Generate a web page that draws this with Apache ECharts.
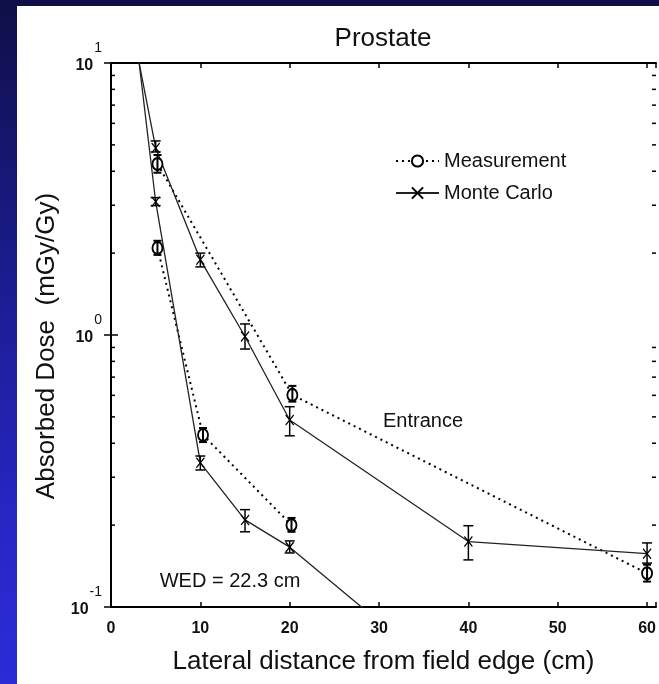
<!DOCTYPE html>
<html><head><meta charset="utf-8">
<script src="https://cdn.jsdelivr.net/npm/echarts@6/dist/echarts.min.js"></script>
<style>
html,body{margin:0;padding:0;}
body{width:659px;height:684px;overflow:hidden;position:relative;background:linear-gradient(to bottom,#0f0f48 0%,#1a1a86 35%,#2626c4 75%,#2c2cd8 100%);}
#panel{position:absolute;left:17px;top:6px;right:0;bottom:0;background:#fff;}
#chart{position:absolute;left:0;top:0;width:659px;height:684px;}
</style></head><body><div id="panel"></div><div id="chart"></div>
<script>
// ---- data (x in cm, dose in mGy/Gy) ----
const xTicks = [0, 10, 20, 30, 40, 50, 60];
const yMinorTicks = [0.2, 0.3, 0.4, 0.5, 0.6, 0.7, 0.8, 0.9, 2, 3, 4, 5, 6, 7, 8, 9];

const mcEntrance   = [[3, 10.6], [5, 4.87], [10, 1.89], [15, 0.987], [20, 0.487], [40, 0.174], [60, 0.157]];
const mcEntranceErr = [[5, 4.71, 5.17], [10, 1.78, 2.0], [15, 0.888, 1.098], [20, 0.426, 0.545], [40, 0.149, 0.199], [60, 0.145, 0.172]];
const measEntrance = [[5.2, 4.25], [20.3, 0.602], [60, 0.133]];
const measEntranceErr = [[5.2, 3.95, 4.59], [20.3, 0.569, 0.65], [60, 0.124, 0.143]];

const mcExit   = [[3, 11.0], [5, 3.09], [10, 0.339], [15, 0.209], [20, 0.166], [40, 0.047]];
const mcExitErr = [[5, 2.99, 3.2], [10, 0.319, 0.359], [15, 0.189, 0.228], [20, 0.158, 0.175]];
const measExit = [[5.2, 2.09], [10.3, 0.429], [20.2, 0.2]];
const measExitErr = [[5.2, 1.97, 2.22], [10.3, 0.404, 0.455], [20.2, 0.189, 0.2125]];

const XMAX = 61;
const FONT = '"Liberation Sans", Arial, Helvetica, sans-serif';

const chart = echarts.init(document.getElementById('chart'), null, {renderer: 'canvas'});

function errBars(data, capW, lw) {
  return {
    type: 'custom', silent: true, z: 4, clip: false,
    data: data, encode: {x: 0, y: [1, 2]},
    renderItem: function (params, api) {
      const x = api.value(0), lo = api.value(1), hi = api.value(2);
      const a = api.coord([x, lo]), b = api.coord([x, hi]);
      const h = capW / 2, st = {stroke: '#000', lineWidth: lw};
      return {type: 'group', children: [
        {type: 'line', shape: {x1: a[0], y1: a[1], x2: b[0], y2: b[1]}, style: st},
        {type: 'line', shape: {x1: a[0] - h, y1: a[1], x2: a[0] + h, y2: a[1]}, style: st},
        {type: 'line', shape: {x1: b[0] - h, y1: b[1], x2: b[0] + h, y2: b[1]}, style: st}
      ]};
    }
  };
}

const minorTickSeries = {
  type: 'custom', silent: true, z: 5, clip: false,
  data: yMinorTicks.map(v => [0, v]), encode: {x: 0, y: 1},
  renderItem: function (params, api) {
    const v = api.value(1);
    const l = api.coord([0, v]), r = api.coord([XMAX, v]);
    const st = {stroke: '#000', lineWidth: 1.5};
    return {type: 'group', children: [
      {type: 'line', shape: {x1: l[0], y1: l[1], x2: l[0] + 4, y2: l[1]}, style: st},
      {type: 'line', shape: {x1: r[0], y1: r[1], x2: r[0] - 4, y2: r[1]}, style: st}
    ]};
  }
};

const xSymbol = 'path://M0 0L10 10M10 0L0 10';

const measStyle = {
  type: 'line', name: 'Measurement', z: 3,
  symbol: 'emptyCircle', symbolSize: [10, 12],
  lineStyle: {color: '#000', width: 2, type: [2, 4]},
  itemStyle: {color: '#000', borderColor: '#000', borderWidth: 2},
  emphasis: {disabled: true}, animation: false
};
const mcStyle = {
  type: 'line', name: 'Monte Carlo', z: 3,
  symbol: xSymbol, symbolSize: [8, 10],
  lineStyle: {color: '#222', width: 1.3, type: 'solid'},
  itemStyle: {color: '#000', borderColor: '#000', borderWidth: 1.3},
  emphasis: {disabled: true}, animation: false
};

const xAxisBase = {
  type: 'value', min: 0, max: XMAX, interval: 10,
  axisLine: {lineStyle: {color: '#000', width: 2}},
  axisTick: {inside: true, length: 5, lineStyle: {color: '#000', width: 1.5}},
  splitLine: {show: false}
};

chart.setOption({
  animation: false,
  backgroundColor: 'transparent',
  grid: {left: 111, right: 2, top: 63, bottom: 77},
  legend: {
    orient: 'vertical', left: 390, top: 146, itemWidth: 43, itemHeight: 14, itemGap: 12,
    data: ['Measurement', 'Monte Carlo'],
    textStyle: {fontFamily: FONT, fontSize: 20, color: '#111'},
    selectedMode: false
  },
  xAxis: [
    Object.assign({}, xAxisBase, {
      position: 'bottom',
      axisLabel: {margin: 14, fontFamily: FONT, fontSize: 16, fontWeight: 'bold', color: '#111',
        formatter: v => (xTicks.indexOf(v) >= 0 ? String(v) : '')},
      name: 'Lateral distance from field edge (cm)', nameLocation: 'middle', nameGap: 42,
      nameTextStyle: {fontFamily: FONT, fontSize: 26, color: '#111'}
    }),
    Object.assign({}, xAxisBase, {position: 'top', axisLabel: {show: false}})
  ],
  yAxis: [
    {
      type: 'log', logBase: 10, min: 0.1, max: 10, position: 'left',
      axisLine: {lineStyle: {color: '#000', width: 2}},
      axisTick: {inside: true, length: 7, lineStyle: {color: '#000', width: 1.5}},
      splitLine: {show: false},
      axisLabel: {
        margin: 9, color: '#111',
        formatter: v => '{b|10}{s|' + Math.round(Math.log10(v)) + '}',
        rich: {
          b: {fontFamily: FONT, fontSize: 16, fontWeight: 'bold', color: '#111', padding: [6, 0, 0, 0]},
          s: {fontFamily: FONT, fontSize: 14, color: '#111', padding: [0, 0, 30, 1]}
        }
      },
      name: 'Absorbed Dose  (mGy/Gy)', nameLocation: 'middle', nameGap: 46,
      nameTextStyle: {fontFamily: FONT, fontSize: 26, color: '#111', padding: [0, 22, 0, 0]}
    },
    {
      type: 'log', logBase: 10, min: 0.1, max: 10, position: 'right',
      axisLine: {lineStyle: {color: '#000', width: 2}},
      axisTick: {inside: true, length: 7, lineStyle: {color: '#000', width: 1.5}},
      axisLabel: {show: false}, splitLine: {show: false}
    }
  ],
  graphic: [
    {type: 'text', x: 383, y: 39, style: {text: 'Prostate', textAlign: 'center', textVerticalAlign: 'middle', font: '26px ' + FONT, fill: '#111'}},
    {type: 'text', x: 423, y: 421, style: {text: 'Entrance', textAlign: 'center', textVerticalAlign: 'middle', font: '20px ' + FONT, fill: '#111'}},
    {type: 'text', x: 230, y: 581, style: {text: 'WED = 22.3 cm', textAlign: 'center', textVerticalAlign: 'middle', font: '20px ' + FONT, fill: '#111'}}
  ],
  series: [
    Object.assign({}, measStyle, {data: measEntrance}),
    Object.assign({}, mcStyle, {data: mcEntrance}),
    Object.assign({}, measStyle, {data: measExit}),
    Object.assign({}, mcStyle, {data: mcExit}),
    errBars(measEntranceErr, 8, 2),
    errBars(measExitErr, 8, 2),
    errBars(mcEntranceErr, 10, 1.5),
    errBars(mcExitErr, 10, 1.5),
    minorTickSeries
  ]
});
</script></body></html>
